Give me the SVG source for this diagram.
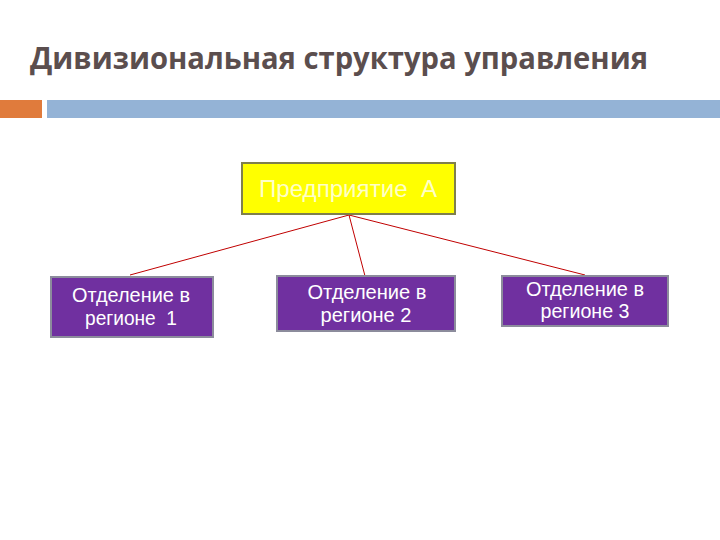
<svg xmlns="http://www.w3.org/2000/svg" width="720" height="540" viewBox="0 0 720 540">
<style>
.title{font-family:"Open Sans","Liberation Sans",sans-serif;font-weight:bold;font-size:31px;fill:#5b4e4e}
.box{fill:#7030a0;stroke:#8c8c9c;stroke-width:2}
.lbl{font-family:"Liberation Sans",Arial,sans-serif;font-size:21px;fill:#ffffff;text-anchor:middle}
.conn{stroke:#c00000;stroke-width:1;fill:none}
</style>
<rect width="720" height="540" fill="#ffffff"/>
<text class="title" x="30" y="69" textLength="618" lengthAdjust="spacingAndGlyphs">Дивизиональная структура управления</text>
<rect x="0" y="100" width="42" height="18" fill="#e07b3c"/>
<rect x="47" y="100" width="673" height="18" fill="#94b3d6"/>
<g id="connectors">
<line class="conn" x1="349" y1="215" x2="130" y2="275"/>
<line class="conn" x1="349" y1="215" x2="365" y2="276"/>
<line class="conn" x1="349" y1="215" x2="585" y2="275"/>
</g>
<g id="node-a">
<rect x="242" y="163" width="213" height="51" fill="#ffff00" stroke="#7f7f4c" stroke-width="2"/>
<text class="lbl" x="348" y="197" style="fill:#ffffc8;font-size:23px" xml:space="preserve" textLength="178" lengthAdjust="spacingAndGlyphs">Предприятие  А</text>
</g>
<g id="node-1">
<rect class="box" x="51" y="277" width="162" height="60"/>
<text class="lbl" x="131" y="302" textLength="118" lengthAdjust="spacingAndGlyphs">Отделение в</text>
<text class="lbl" x="131" y="325" xml:space="preserve" textLength="92" lengthAdjust="spacingAndGlyphs">регионе  1</text>
</g>
<g id="node-2">
<rect class="box" x="277" y="276" width="178" height="55"/>
<text class="lbl" x="367" y="299" textLength="119" lengthAdjust="spacingAndGlyphs">Отделение в</text>
<text class="lbl" x="366" y="322" textLength="91" lengthAdjust="spacingAndGlyphs">регионе 2</text>
</g>
<g id="node-3">
<rect class="box" x="502" y="276" width="166" height="50"/>
<text class="lbl" x="585" y="296" textLength="118" lengthAdjust="spacingAndGlyphs">Отделение в</text>
<text class="lbl" x="585" y="318" textLength="89" lengthAdjust="spacingAndGlyphs">регионе 3</text>
</g>
</svg>
